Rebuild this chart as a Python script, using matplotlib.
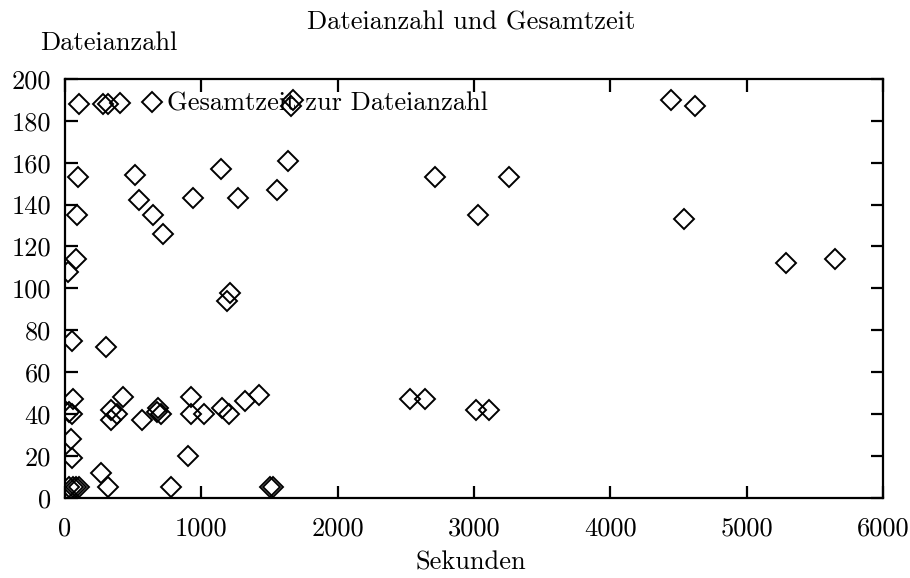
import matplotlib
matplotlib.use("Agg")
import matplotlib.pyplot as plt

# Sekunden (x) und Dateianzahl (y)
sekunden = [
    103, 281, 313, 403, 1656, 1675, 4443, 4621,
    93, 513, 1144, 1633, 545, 937, 1267, 1553, 86, 648, 716, 3027, 4541,
    78, 25, 1210, 1186, 5289, 5648, 2714, 3257,
    49, 298, 61, 32, 54, 428, 335, 384, 335, 562, 680, 672, 701,
    922, 922, 1020, 1149, 1205, 1320, 1423, 2531, 2641, 3015, 3110,
    44, 49, 900, 262, 318, 775, 1504, 1528, 32, 61, 81, 105,
]
dateianzahl = [
    188, 188, 188, 188.5, 187, 190, 190, 187,
    153, 154, 157, 161, 142, 143, 143, 147, 135, 135, 126, 135, 133,
    114, 108, 98, 94, 112, 114, 153, 153,
    75, 72, 47, 41, 40, 48, 42, 40, 37, 37, 43, 41, 40,
    48, 40, 40, 43, 40, 46, 49, 47, 47, 42, 42,
    28, 19, 20, 12, 5, 5, 5, 5, 5, 5, 5, 5,
]

plt.rcParams["font.family"] = ["cmr10", "DejaVu Serif"]
plt.rcParams["axes.unicode_minus"] = False
FS = 19

fig = plt.figure(figsize=(9.1, 5.78), dpi=100)
ax = fig.add_axes([65 / 910, 1 - 497.7 / 578, (883 - 65) / 910, (497.7 - 79) / 578])

ax.plot(sekunden, dateianzahl, linestyle="none", marker="D", markersize=10.5,
        markerfacecolor="none", markeredgecolor="black", markeredgewidth=1.4,
        label="Gesamtzeit zur Dateianzahl")

ax.set_xlim(0, 6000)
ax.set_ylim(0, 200)
ax.set_xticks(range(0, 6001, 1000))
ax.set_yticks(range(0, 201, 20))
ax.tick_params(direction="in", length=9, width=1.6, top=True, right=True,
               labelsize=FS, colors="black")
ax.tick_params(axis="x", pad=14)
ax.tick_params(axis="y", pad=10)
for s in ax.spines.values():
    s.set_linewidth(1.6)

fig.text(471 / 910, 1 - 563 / 578, "Sekunden", fontsize=FS, ha="center", va="center")
fig.text(471 / 910, 1 - 23 / 578, "Dateianzahl und Gesamtzeit", fontsize=FS,
         ha="center", va="center")
fig.text(40 / 910, 1 - 43 / 578, "Dateianzahl", fontsize=FS, ha="left", va="center")

ax.legend(loc="center left", bbox_to_anchor=(144.3 / 910, 1 - 104 / 578),
          bbox_transform=fig.transFigure, frameon=False, fontsize=FS,
          borderpad=0, borderaxespad=0, handlelength=0.6, handletextpad=0.26,
          numpoints=1)

fig.savefig("out.png", dpi=100, facecolor="white")
